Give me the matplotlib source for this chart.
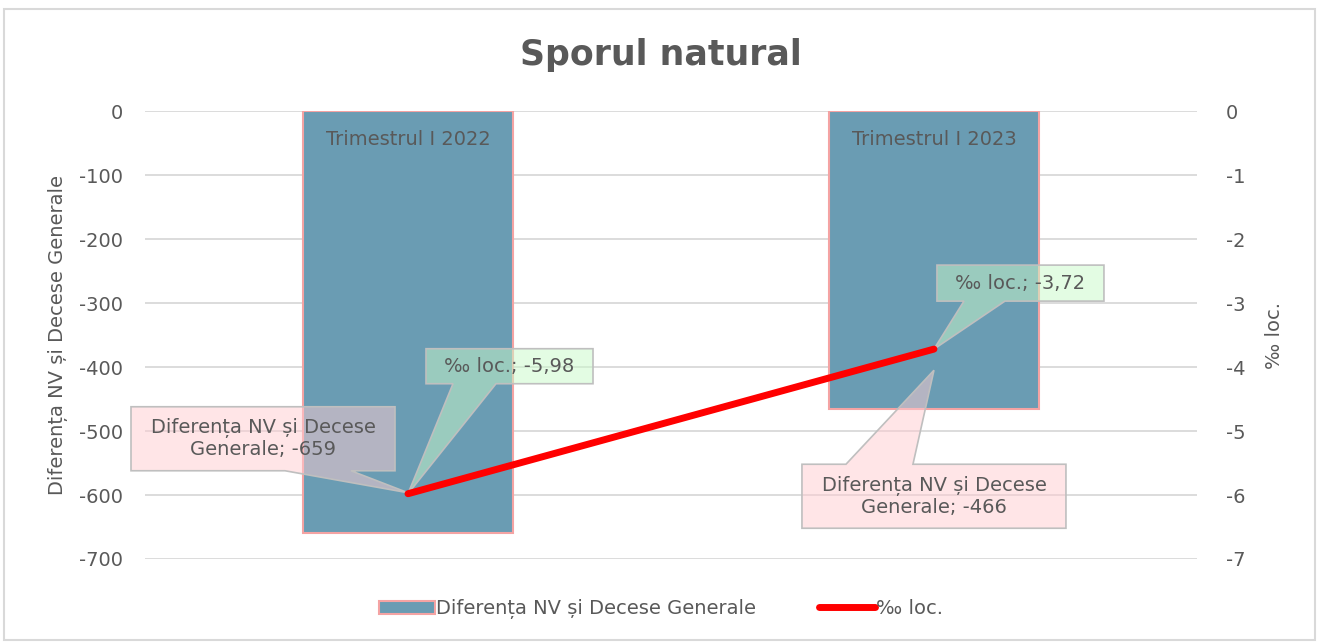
import matplotlib
matplotlib.use("Agg")
import matplotlib.pyplot as plt
from matplotlib.patches import Rectangle, Polygon, Patch
from matplotlib.lines import Line2D
from matplotlib.transforms import Affine2D, ScaledTranslation

categories = ["Trimestrul I 2022", "Trimestrul I 2023"]
diff_values = [-659, -466]
rate_values = [-5.98, -3.72]
left_ticks = [0, -100, -200, -300, -400, -500, -600, -700]
right_ticks = [0, -1, -2, -3, -4, -5, -6, -7]
bar_name = "Diferența NV și Decese Generale"
line_name = "‰ loc."
title = "Sporul natural"

plt.rcParams['font.family'] = ['DejaVu Sans']
plt.rcParams['axes.unicode_minus'] = False
TXT = "#595959"
FS = 14

fig = plt.figure(figsize=(13.22, 6.42), dpi=100)
fig.patches.append(Rectangle((0.003, 0.003), 0.992, 0.983, transform=fig.transFigure,
                             fill=False, ec="#d9d9d9", lw=1.5))
ax = fig.add_axes([0.1097, 0.1293, 0.7957, 0.6977])
ax2 = ax.twinx()

x = list(range(len(categories)))
ax.bar(x, diff_values, width=0.4, color="#6a9cb3", edgecolor="#f4a3a3", linewidth=1.5, zorder=2)
ax.set_xlim(-0.5, 1.5)
ax.set_ylim(-700, 0)
ax.set_yticks(left_ticks)
ax.set_xticks([])
ax.grid(axis="y", color="#d9d9d9", lw=1.3, zorder=0)
ax.set_axisbelow(True)
for s in list(ax.spines.values()) + list(ax2.spines.values()):
    s.set_visible(False)
ax.tick_params(axis="y", length=0, labelsize=FS, labelcolor=TXT, pad=16)
ax.set_ylabel(bar_name, fontsize=FS, color=TXT, labelpad=8)

for xi, c in zip(x, categories):
    ax.text(xi, -45, c, ha="center", va="center", fontsize=FS, color=TXT, zorder=3)

ax2.plot(x, rate_values, color="#ff0000", lw=5, solid_capstyle="round", zorder=8)
ax2.set_ylim(-7, 0)
ax2.set_yticks(right_ticks)
ax2.tick_params(axis="y", length=0, labelsize=FS, labelcolor=TXT, pad=21)
ax2.set_ylabel(line_name, fontsize=FS, color=TXT, labelpad=14)

fig.text(0.5, 0.914, title, ha="center", va="center", fontsize=25, fontweight="bold",
         color=TXT)

def fmt(v):
    return ("%.2f" % v).replace(".", ",")

PINK = (1.0, 0.80, 0.82, 0.5)
GREEN = (0.79, 0.98, 0.79, 0.51)

def callout(data_axis, xd, yd, text, fc, tip_dy, box, edge, base):
    # pixel geometry relative to tip, y downwards
    l, t, r, b = box
    b1, b2 = base
    if edge == "bottom":
        verts = [(l, t), (r, t), (r, b), (b2, b), (0, 0), (b1, b), (l, b)]
    else:
        verts = [(l, t), (b1, t), (0, 0), (b2, t), (r, t), (r, b), (l, b)]
    verts = [(vx, -(vy + tip_dy)) for vx, vy in verts]
    tr = Affine2D() + ScaledTranslation(xd, yd, data_axis.transData)
    poly = Polygon(verts, closed=True, fc=fc, ec="#bfbfbf", lw=1.2, transform=tr,
                   clip_on=False, zorder=6)
    ax2.add_patch(poly)
    cx, cy = (l + r) / 2, -((t + b) / 2 + tip_dy)
    ax2.text(cx, cy, text, transform=tr, ha="center", va="center", fontsize=FS,
             color=TXT, zorder=7, linespacing=1.15)

bar_layout = [dict(tip_dy=-40, box=(-277, -86, -13, -22), edge="bottom", base=(-123, -57)),
              dict(tip_dy=-39, box=(-132, 94, 132, 158), edge="top", base=(-88, -21))]
line_layout = [dict(tip_dy=0, box=(18, -145, 185, -110), edge="bottom", base=(45, 88)),
               dict(tip_dy=0, box=(3, -84, 170, -48), edge="bottom", base=(30, 71))]

for xi, v, r, bl, ll in zip(x, diff_values, rate_values, bar_layout, line_layout):
    callout(ax, xi, v, bar_name.replace(" Generale", "\nGenerale") + "; " + str(v),
            PINK, **bl)
    callout(ax2, xi, r, line_name + "; " + fmt(r), GREEN, **ll)

handles = [Patch(fc="#6a9cb3", ec="#f4a3a3", lw=1.5, label=bar_name),
           Line2D([], [], color="#ff0000", lw=5, solid_capstyle="round", label=line_name)]
fig.legend(handles=handles, loc="center", bbox_to_anchor=(0.5, 0.051), ncol=2, frameon=False,
           fontsize=FS, labelcolor=TXT, handlelength=2.9, handleheight=0.7,
           handletextpad=0.05, columnspacing=3.2)

fig.savefig("out.png", dpi=100)
